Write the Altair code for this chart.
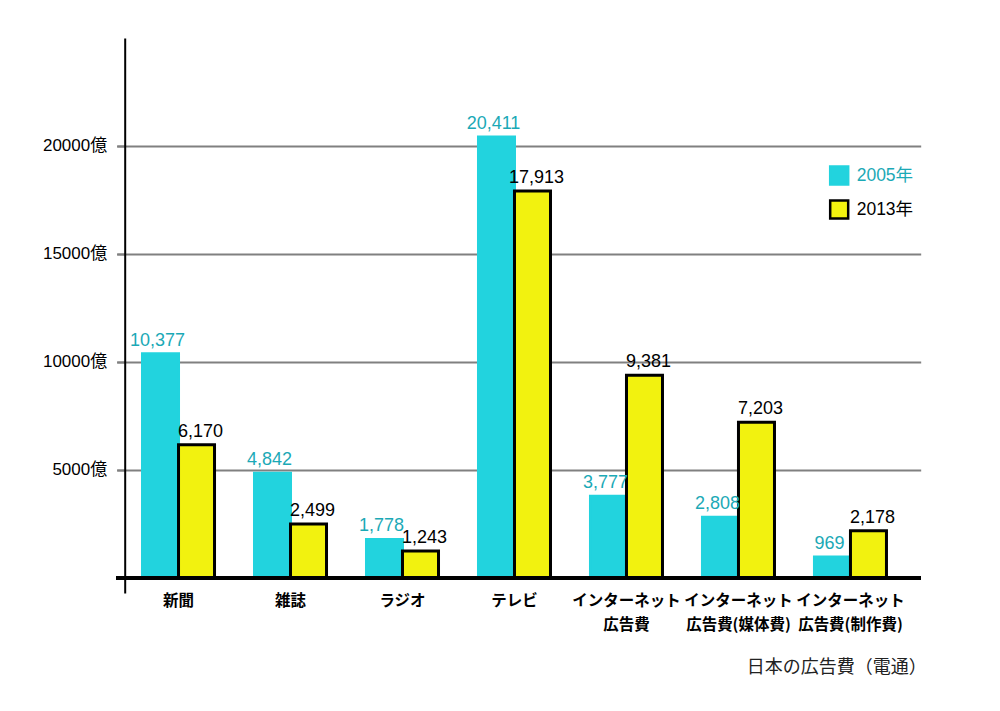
import altair as alt
import pandas as pd

categories = [
    "新聞",
    "雑誌",
    "ラジオ",
    "テレビ",
    "インターネット\n広告費",
    "インターネット\n広告費(媒体費)",
    "インターネット\n広告費(制作費)",
]
years = ["2005年", "2013年"]
values_2005 = [10377, 4842, 1778, 20411, 3777, 2808, 969]
values_2013 = [6170, 2499, 1243, 17913, 9381, 7203, 2178]
y_ticks = [5000, 10000, 15000, 20000]
footnote = "日本の広告費（電通）"

rows = []
for i, c in enumerate(categories):
    rows.append({"category": c, "year": years[0], "value": values_2005[i]})
    rows.append({"category": c, "year": years[1], "value": values_2013[i]})
df = pd.DataFrame(rows)

CYAN = "#22d3de"
TEAL = "#1ba9b6"
YELLOW = "#f2f20f"
JP = "Liberation Sans, Noto Sans CJK JP, sans-serif"
JPB = "Noto Sans CJK JP, sans-serif"
LAT = "Liberation Sans, Arial, sans-serif"

W, H = 804, 555

x = alt.X(
    "category:N",
    sort=categories,
    scale=alt.Scale(paddingInner=0.357, paddingOuter=0.268, align=0.43),
    axis=alt.Axis(
        title=None,
        labelExpr="split(datum.label, '\\n')",
        labelAngle=0,
        labelFont=JPB,
        labelFontSize=15.5,
        labelFontWeight="bold",
        labelColor="black",
        labelLineHeight=24,
        labelPadding=1,
        labelBaseline="top",
        ticks=False,
        domain=False,
        grid=False,
    ),
)
y = alt.Y(
    "value:Q",
    scale=alt.Scale(domain=[-700, 25000], nice=False, zero=False),
    axis=alt.Axis(
        title=None,
        values=y_ticks,
        labelExpr="datum.value + '億'",
        offset=-8,
        tickSize=8,
        tickColor="#808080",
        tickWidth=2,
        grid=True,
        gridColor="#808080",
        gridWidth=2,
        domainColor="black",
        domainWidth=2,
        labelFont=JP,
        labelFontSize=17,
        labelColor="black",
        labelPadding=10,
    ),
)
xoff = alt.XOffset("year:N", sort=years, scale=alt.Scale(paddingInner=0, paddingOuter=0))

leg = alt.Legend(
    title=None,
    orient="none",
    legendX=712,
    legendY=127,
    direction="vertical",
    symbolType="square",
    symbolSize=324,
    symbolStrokeWidth=2.5,
    labelFont=JP,
    labelFontSize=17.5,
    labelColor={"expr": "datum.value === '2005年' ? '%s' : '#000000'" % TEAL},
    labelOffset=7,
    rowPadding=5,
    padding=0,
)

bars = alt.Chart(df).mark_bar(strokeWidth=3).encode(
    x=x,
    xOffset=xoff,
    y=y,
    y2=alt.datum(0),
    color=alt.Color("year:N", scale=alt.Scale(domain=years, range=[CYAN, YELLOW]), legend=leg),
    stroke=alt.Stroke("year:N", scale=alt.Scale(domain=years, range=[CYAN, "black"]), legend=leg),
)

labels_2005 = (
    alt.Chart(df)
    .transform_filter(alt.datum.year == years[0])
    .mark_text(baseline="alphabetic", dy=-8, dx=-3, fontSize=18, font=LAT, color=TEAL)
    .encode(x=x, xOffset=xoff, y=y, text=alt.Text("value:Q", format=","))
)
labels_2013 = (
    alt.Chart(df)
    .transform_filter(alt.datum.year == years[1])
    .mark_text(baseline="alphabetic", dy=-8, dx=4, fontSize=18, font=LAT, color="black")
    .encode(x=x, xOffset=xoff, y=y, text=alt.Text("value:Q", format=","))
)

baseline = alt.Chart(df).mark_rule(color="black", strokeWidth=4).encode(y=alt.datum(0))

chart = (
    alt.layer(bars, labels_2005, labels_2013, baseline)
    .properties(
        width=W,
        height=H,
        autosize=alt.AutoSizeParams(type="none"),
        padding={"left": 108.7, "top": 30, "right": 70, "bottom": 115},
        title=alt.TitleParams(
            footnote,
            orient="bottom",
            anchor="end",
            frame="group",
            font=JPB,
            fontSize=18,
            fontWeight="normal",
            color="#222222",
            offset=26,
            dx=6,
        ),
        background="white",
    )
    .configure_view(stroke=None)
)

chart.save("out.html", embed_options={"renderer": "svg", "actions": False})
